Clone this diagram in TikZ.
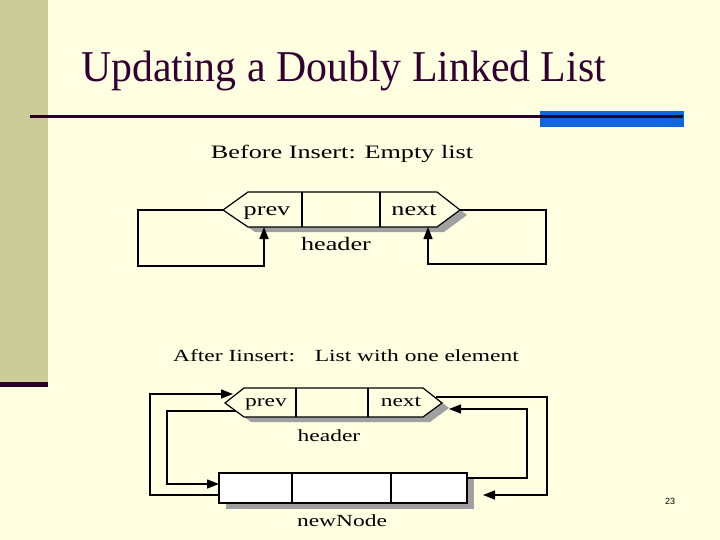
\documentclass[tikz,border=0pt]{standalone}
\usepackage{fontspec}
\setmainfont{Liberation Serif}
\newfontfamily\figfont[FakeStretch=1.38]{Liberation Serif}
\newfontfamily\titlefont[FakeStretch=0.95]{Liberation Serif}
\newfontfamily\numfont{Liberation Sans}
\usepackage{tikz}
\usetikzlibrary{arrows.meta}
\definecolor{slidebg}{RGB}{255,255,225}
\definecolor{sidebar}{RGB}{204,204,153}
\definecolor{titlecolor}{RGB}{51,0,51}
\definecolor{rulecolor}{RGB}{40,0,40}
\definecolor{barblue}{RGB}{17,102,221}
\definecolor{shadowgray}{RGB}{160,160,160}

\tikzset{
  link/.style={line width=1.4pt, -{Triangle[length=12pt,width=9pt]}},
  cellline/.style={line width=1.2pt},
  bigtext/.style={anchor=base, inner sep=0pt, font=\figfont\fontsize{19}{19}\selectfont},
  smalltext/.style={anchor=base, inner sep=0pt, font=\figfont\fontsize{17}{17}\selectfont}
}

\begin{document}
\begin{tikzpicture}[x=1pt,y=-1pt]
\useasboundingbox (0,0) rectangle (720,540);
\fill[slidebg] (0,0) rectangle (720,540);
\fill[sidebar] (0,0) rectangle (48,382);
\fill[rulecolor] (0,382) rectangle (48,387);
\fill[barblue] (540,111) rectangle (684,127);
\draw[rulecolor, line width=3pt] (30,117) -- (683,117);
\node[anchor=base west, inner sep=0pt, text=titlecolor, font=\titlefont\fontsize{44}{48}\selectfont] (title) at (81,82) {Updating a Doubly Linked List};

\node[bigtext] (beforeA) at (342,159) {Before Insert: Empty list};
\fill[shadowgray, shift={(7,5)}] (223,210) -- (248,192) -- (437,192) -- (460,210) -- (437,227) -- (248,227) -- cycle;
\draw[cellline, fill=slidebg] (223,210) -- (248,192) -- (437,192) -- (460,210) -- (437,227) -- (248,227) -- cycle;
\draw[cellline] (302,192) -- (302,227);
\draw[cellline] (380,192) -- (380,227);
\node[bigtext] (prevA) at (267,215) {prev};
\node[bigtext] (nextA) at (414,215) {next};
\node[bigtext] (headerA) at (336,250) {header};
\coordinate (hAleft) at (223,210);
\coordinate (hAright) at (460,210);
\coordinate (hAprevbot) at (264,227);
\coordinate (hAnextbot) at (428,227);
\draw[link] (hAleft) -- ++(-85,0) -- ++(0,56) -| (hAprevbot);
\draw[link] (hAright) -- ++(86,0) -- ++(0,54) -| (hAnextbot);

\node[smalltext] (afterB) at (346,361) {After Iinsert:\hspace{12pt} List with one element};
\fill[shadowgray, shift={(7,5)}] (225,403) -- (244,388) -- (423,388) -- (442,403) -- (423,417) -- (244,417) -- cycle;
\draw[cellline, fill=slidebg] (225,403) -- (244,388) -- (423,388) -- (442,403) -- (423,417) -- (244,417) -- cycle;
\draw[cellline] (296,388) -- (296,417);
\draw[cellline] (368,388) -- (368,417);
\node[smalltext] (prevB) at (266,406) {prev};
\node[smalltext] (nextB) at (401,406) {next};
\node[smalltext] (headerB) at (329,441) {header};
\fill[shadowgray] (226,479) rectangle (474,509);
\draw[cellline, fill=white] (219,473) rectangle (467,503);
\draw[cellline] (292,473) -- (292,503);
\draw[cellline] (391,473) -- (391,503);
\node[smalltext] (newNode) at (342,526) {newNode};
\coordinate (hBupL) at (233,394);
\coordinate (hBlowL) at (236,411);
\coordinate (hBupR) at (436,397);
\coordinate (hBlowR) at (449,409);
\coordinate (nnLlow) at (219,495);
\coordinate (nnLhigh) at (219,484);
\coordinate (nnRhigh) at (467,478);
\coordinate (nnRarrow) at (483,495);
\draw[link] (nnLlow) -- ++(-69,0) |- (hBupL);
\draw[link] (hBlowL) -- ++(-69,0) |- (nnLhigh);
\draw[link] (hBupR) -- ++(111,0) |- (nnRarrow);
\draw[link] (nnRhigh) -- ++(60,0) |- (hBlowR);

\node[font=\numfont\fontsize{9}{9}\selectfont] (pagenum) at (670,501) {23};
\end{tikzpicture}
\end{document}
